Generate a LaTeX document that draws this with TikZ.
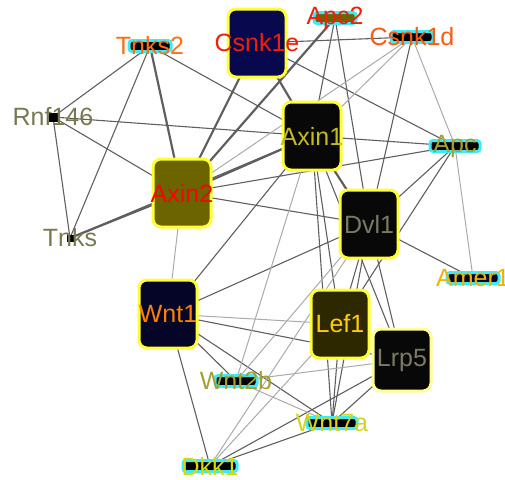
\documentclass[tikz,border=0pt]{standalone}
\usepackage[svgnames]{xcolor}
\usepackage{fontspec}
\setmainfont{Liberation Sans}
\usepackage{tikz}
\usetikzlibrary{calc}

\definecolor{RingYellow}{RGB}{255,255,51}
\definecolor{RingPale}{RGB}{255,255,150}
\definecolor{RingCyan}{RGB}{60,235,245}
\definecolor{LinkDark}{RGB}{95,95,95}
\definecolor{LinkLight}{RGB}{170,170,170}
\definecolor{BoxNavy}{RGB}{8,8,78}
\definecolor{BoxInk}{RGB}{5,5,40}
\definecolor{BoxBlack}{RGB}{8,8,8}
\definecolor{BoxOlive}{RGB}{107,100,0}
\definecolor{BoxUmber}{RGB}{45,40,0}
\definecolor{TxtRed}{RGB}{240,30,10}
\definecolor{TxtOrange}{RGB}{255,110,20}
\definecolor{TxtOlive}{RGB}{120,120,80}
\definecolor{TxtKhaki}{RGB}{165,160,50}
\definecolor{TxtYellow}{RGB}{215,210,30}
\definecolor{TxtGold}{RGB}{240,180,0}
\definecolor{TxtGrey}{RGB}{122,122,100}

\pgfdeclarelayer{links}
\pgfsetlayers{links,main}

\begin{document}
\begin{tikzpicture}[x=1pt, y=-1pt,
    every node/.style={font=\fontsize{25}{29}\selectfont},
    bignode/.style={draw=RingYellow, line width=3pt, rounded corners=8pt,
        minimum width=58pt, minimum height=68pt, inner sep=0pt},
    smallnode/.style={draw=RingCyan, line width=3pt, rounded corners=3pt,
        minimum width=42pt, minimum height=11pt, inner sep=0pt},
    dotnode/.style={fill=black, minimum size=9pt, inner sep=0pt},
    thicklink/.style={draw=LinkDark, line width=2.2pt},
    link/.style={draw=LinkDark, line width=1.1pt},
    thinlink/.style={draw=LinkLight, line width=1pt}]

    \useasboundingbox (0,0) rectangle (505,479);

    %Big hubs
    \node[bignode, fill=BoxNavy, label={[text=TxtRed]center:Csnk1e}] (csnkE) at (257,43) {};
    \node[bignode, fill=BoxBlack, label={[text=TxtYellow!90!black]center:Axin1}] (axinA) at (312,136) {};
    \node[bignode, fill=BoxOlive, label={[text=red]center:Axin2}] (axinB) at (182,193) {};
    \node[bignode, fill=BoxBlack, label={[text=TxtGrey]center:Dvl1}] (dvl) at (369,224) {};
    \node[bignode, fill=BoxInk, label={[text=orange]center:Wnt1}] (wntA) at (168,314) {};
    \node[bignode, fill=BoxUmber, label={[text=Gold!90!orange]center:Lef1}] (lef) at (340,324) {};
    \node[bignode, fill=BoxBlack, draw=RingPale, minimum height=62pt,
        label={[text=TxtGrey]center:Lrp5}] (lrp) at (402,360) {};

    %Small boxes
    \node[smallnode, fill=black, label={[text=TxtOrange]center:Tnks2}] (tnksB) at (150,46) {};
    \node[smallnode, fill=BoxOlive, label={[text=TxtRed]center:Apc2}] (apcB) at (335,18) {};
    \node[smallnode, fill=black, label={[text=TxtOrange!80!red]center:Csnk1d}] (csnkD) at (412,37) {};
    \node[smallnode, fill=black, minimum width=50pt, label={[text=TxtKhaki]center:Apc}] (apc) at (455,146) {};
    \node[smallnode, fill=BoxInk, minimum width=52pt, label={[text=TxtGold]center:Amer1}] (amer) at (473,278) {};
    \node[smallnode, fill=black, label={[text=TxtKhaki]center:Wnt2b}] (wntB) at (236,381) {};
    \node[smallnode, fill=black, minimum width=50pt, label={[text=TxtYellow]center:Wnt7a}] (wntG) at (332,423) {};
    \node[smallnode, fill=black, minimum width=54pt, label={[text=Yellow!85!black]center:Dkk1}] (dkk) at (210,466) {};

    %Dots
    \node[dotnode, label={[text=TxtOlive]center:Rnf146}] (rnf) at (53,117) {};
    \node[dotnode, minimum size=7pt, label={[text=TxtOlive]center:Tnks}] (tnks) at (70,238) {};

    %Links
    \begin{pgfonlayer}{links}
    \draw[thicklink] (tnksB.center) -- (axinB.center);
    \draw[thicklink] (tnks.center) -- (axinB.center);
    \draw[thicklink] (csnkE.center) -- (axinB.center);
    \draw[thicklink] (apcB.center) -- (axinB.center);
    \draw[thicklink] (axinA.center) -- (axinB.center);
    \draw[thicklink] (axinA.center) -- (dvl.center);
    \draw[thicklink] (csnkE.center) -- (axinA.center);

    \foreach \a/\b in {tnksB/rnf, tnksB/tnks, tnksB/axinA, rnf/tnks, rnf/axinB,
        rnf/axinA, tnks/axinA, csnkE/csnkD, csnkE/apc, apcB/axinA, apcB/dvl,
        csnkD/dvl, axinA/apc, axinB/apc, axinA/wntA, axinA/wntG, axinA/lef,
        axinA/lrp, axinB/dvl, dvl/wntA, dvl/apc, apc/lef, dvl/amer, dvl/lef,
        dvl/lrp, dvl/wntG, wntA/wntG, wntA/dkk, wntA/wntB, wntA/lrp,
        lef/wntG, lrp/wntG, wntG/dkk, lrp/dkk}
        \draw[link] (\a.center) -- (\b.center);

    \foreach \a/\b in {csnkD/axinB, csnkD/axinA, csnkD/apc, apc/amer,
        axinA/wntB, axinB/wntA, dvl/wntB, wntA/lef, wntB/lrp, wntB/wntG,
        lef/dkk, dvl/dkk}
        \draw[thinlink] (\a.center) -- (\b.center);
    \end{pgfonlayer}

\end{tikzpicture}
\end{document}
